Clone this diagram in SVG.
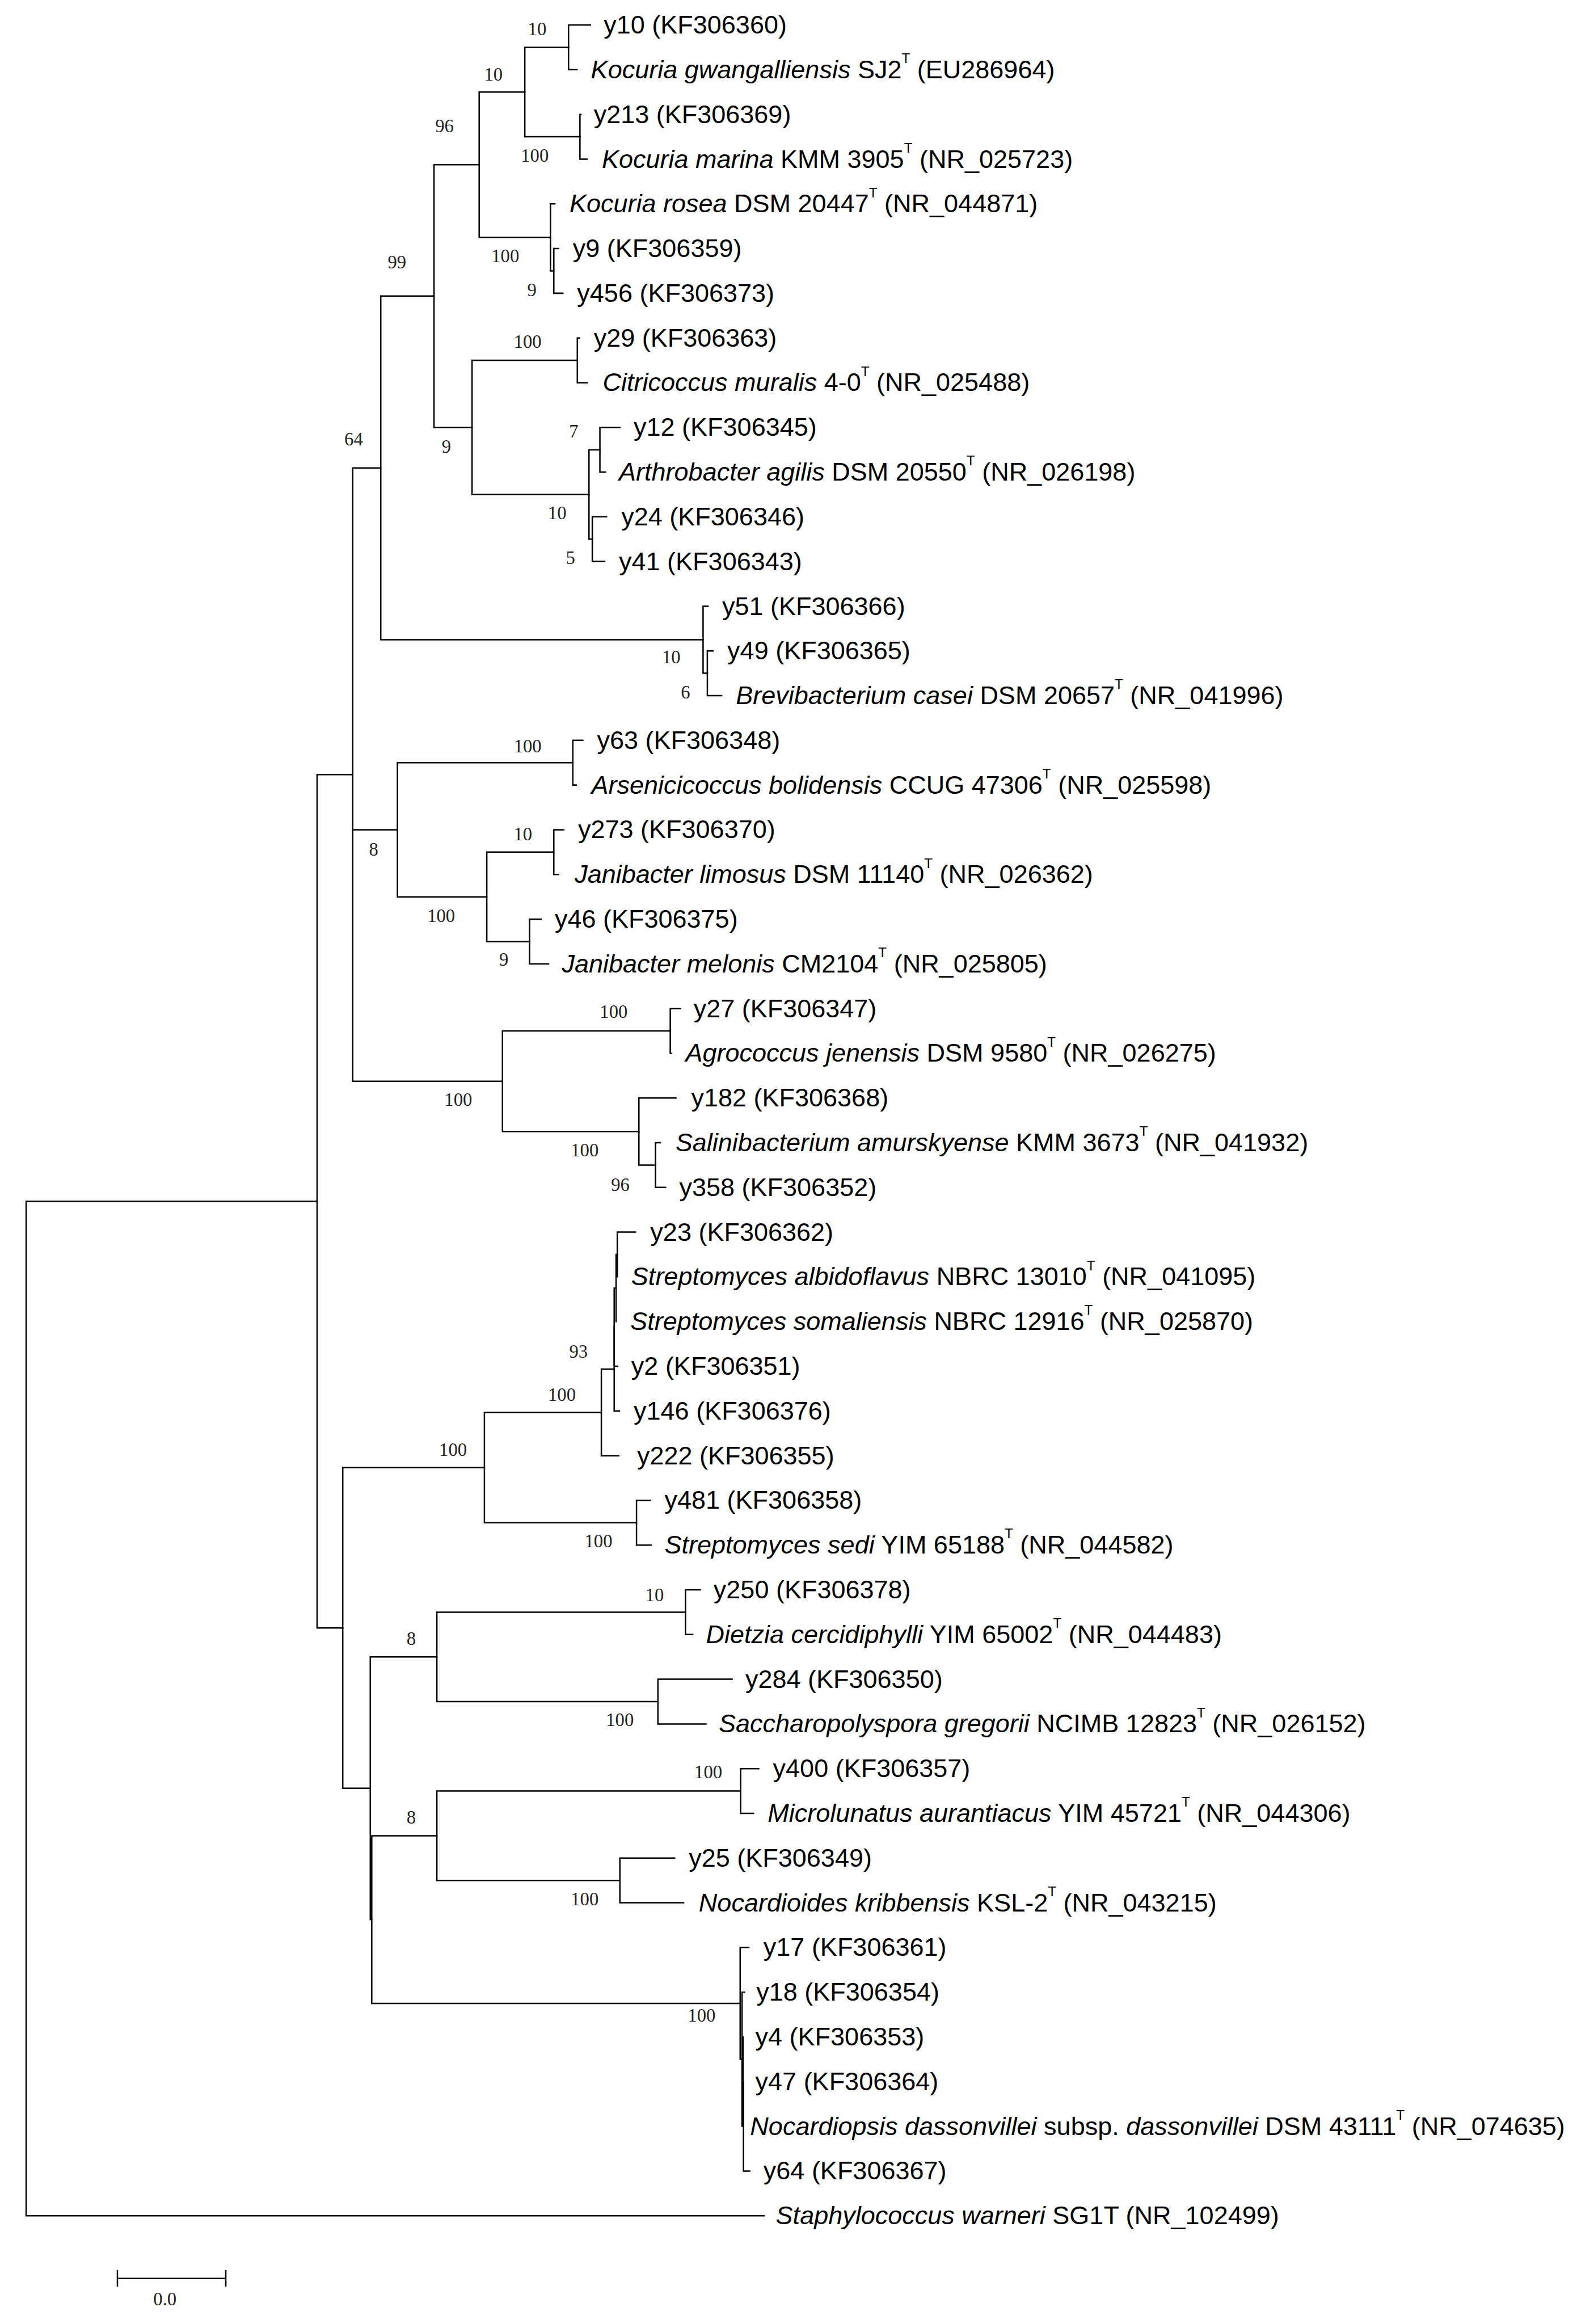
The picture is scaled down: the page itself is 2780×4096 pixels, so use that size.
<svg xmlns="http://www.w3.org/2000/svg" width="2780" height="4096" viewBox="0 0 2780 4096">
<style>
.br{fill:none;stroke:#000;stroke-width:3;stroke-linecap:square}
.lf{font-family:"Liberation Sans",Arial,sans-serif;font-size:53.7px;fill:#000}
.i{font-style:italic}
.sup{font-size:29px}
.bs{font-family:"Liberation Serif","Times New Roman",serif;font-size:39px;fill:#222;text-anchor:middle}
</style>
<rect width="2780" height="4096" fill="#fff"/>
<g transform="scale(0.838)">
<g id="connectors">
<path class="br" d="M55 2526.5V4660.1M55 2526.5H667M55 4660.1H1607"/>
<path class="br" d="M667 1629.1V3423.8M667 1629.1H742M667 3423.8H721"/>
<path class="br" d="M742 984.1V2274.1M742 984.1H801M742 1745.2H836M742 2274.1H1057"/>
<path class="br" d="M801 622.7V1345.5M801 622.7H913M801 1345.5H1479"/>
<path class="br" d="M913 346.5V898.9M913 346.5H1008M913 898.9H993"/>
<path class="br" d="M1008 193.7V499.3M1008 193.7H1104M1008 499.3H1158"/>
<path class="br" d="M1104 99.6V287.7M1104 99.6H1196M1104 287.7H1220"/>
<path class="br" d="M1196 52.6V146.6M1196 52.6H1242M1196 146.6H1214"/>
<path class="br" d="M1220 240.7V334.7M1220 240.7H1222M1220 334.7H1235"/>
<path class="br" d="M1158 428.7V569.8M1158 428.7H1167M1158 569.8H1165"/>
<path class="br" d="M1165 522.8V616.8M1165 522.8H1175M1165 616.8H1184"/>
<path class="br" d="M993 757.8V1039.9M993 757.8H1214.5M993 1039.9H1239"/>
<path class="br" d="M1214.5 710.8V804.8M1214.5 710.8H1219M1214.5 804.8H1235"/>
<path class="br" d="M1239 945.9V1133.9M1239 945.9H1262M1239 1133.9H1246"/>
<path class="br" d="M1262 898.9V992.9M1262 898.9H1304M1262 992.9H1273.5"/>
<path class="br" d="M1246 1086.9V1180.9M1246 1086.9H1276M1246 1180.9H1272"/>
<path class="br" d="M1479 1275V1416M1479 1275H1489.5M1479 1416H1488"/>
<path class="br" d="M1488 1369V1463M1488 1369H1500M1488 1463H1518"/>
<path class="br" d="M836 1604.1V1886.2M836 1604.1H1205M836 1886.2H1024"/>
<path class="br" d="M1205 1557.1V1651.1M1205 1557.1H1226M1205 1651.1H1212"/>
<path class="br" d="M1024 1792.2V1980.2M1024 1792.2H1165M1024 1980.2H1114"/>
<path class="br" d="M1165 1745.1V1839.2M1165 1745.1H1186M1165 1839.2H1175"/>
<path class="br" d="M1114 1933.2V2027.2M1114 1933.2H1138M1114 2027.2H1154"/>
<path class="br" d="M1057 2168.3V2379.9M1057 2168.3H1410M1057 2379.9H1344"/>
<path class="br" d="M1410 2121.3V2215.3M1410 2121.3H1431M1410 2215.3H1412"/>
<path class="br" d="M1344 2309.3V2450.4M1344 2309.3H1422M1344 2450.4H1379"/>
<path class="br" d="M1379 2403.3V2497.4M1379 2403.3H1389M1379 2497.4H1400"/>
<path class="br" d="M721 3086.6V3761M721 3086.6H1019M721 3761H779"/>
<path class="br" d="M1019 2970.5V3202.6M1019 2970.5H1265M1019 3202.6H1339"/>
<path class="br" d="M1265 2879.4V3061.6M1265 2879.4H1292M1265 3061.6H1301.5"/>
<path class="br" d="M1292 2791.2V2967.5M1292 2967.5H1303"/>
<path class="br" d="M1292 2709V2873.5M1292 2709H1296M1292 2873.5H1299"/>
<path class="br" d="M1296 2638.4V2779.5M1296 2638.4H1298.5"/>
<path class="br" d="M1298.5 2591.4V2685.4M1298.5 2591.4H1337"/>
<path class="br" d="M1339 3155.6V3249.6M1339 3155.6H1368M1339 3249.6H1370"/>
<path class="br" d="M779 3484.7V4037.2M779 3484.7H919M779 4037.2H782"/>
<path class="br" d="M919 3390.7V3578.8M919 3390.7H1442M919 3578.8H1384"/>
<path class="br" d="M1442 3343.7V3437.7M1442 3343.7H1473M1442 3437.7H1457"/>
<path class="br" d="M1384 3531.7V3625.8M1384 3531.7H1540M1384 3625.8H1485"/>
<path class="br" d="M782 3860.9V4213.5M782 3860.9H919M782 4213.5H1557"/>
<path class="br" d="M919 3766.8V3954.9M919 3766.8H1558M919 3954.9H1304"/>
<path class="br" d="M1558 3719.8V3813.8M1558 3719.8H1596M1558 3813.8H1585"/>
<path class="br" d="M1304 3907.9V4001.9M1304 3907.9H1419M1304 4001.9H1438"/>
<path class="br" d="M1557 4095.9V4331M1557 4095.9H1575M1557 4331H1561"/>
<path class="br" d="M1561 4190V4472M1561 4190H1566"/>
<path class="br" d="M1563 4284V4472"/>
<path class="br" d="M1564 4378V4566.1M1564 4566.1H1577"/>
<path class="br" d="M247 4792H475M247 4776V4808M475 4776V4808"/>
</g>
<g id="support">
<text class="bs" x="1130" y="74">10</text>
<text class="bs" x="1038" y="169">10</text>
<text class="bs" x="935" y="278">96</text>
<text class="bs" x="1125" y="340">100</text>
<text class="bs" x="1063" y="551">100</text>
<text class="bs" x="1119" y="623">9</text>
<text class="bs" x="835" y="564">99</text>
<text class="bs" x="1110" y="732">100</text>
<text class="bs" x="744" y="937">64</text>
<text class="bs" x="939" y="952">9</text>
<text class="bs" x="1207" y="920">7</text>
<text class="bs" x="1172" y="1092">10</text>
<text class="bs" x="1200" y="1186">5</text>
<text class="bs" x="1412" y="1395">10</text>
<text class="bs" x="1442" y="1469">6</text>
<text class="bs" x="1110" y="1582">100</text>
<text class="bs" x="786" y="1800">8</text>
<text class="bs" x="1100" y="1767">10</text>
<text class="bs" x="928" y="1939">100</text>
<text class="bs" x="1060" y="2031">9</text>
<text class="bs" x="1291" y="2141">100</text>
<text class="bs" x="964" y="2326">100</text>
<text class="bs" x="1230" y="2432">100</text>
<text class="bs" x="1305" y="2505">96</text>
<text class="bs" x="1217" y="2856">93</text>
<text class="bs" x="1182" y="2946">100</text>
<text class="bs" x="953" y="3062">100</text>
<text class="bs" x="1259" y="3254">100</text>
<text class="bs" x="1377" y="3368">10</text>
<text class="bs" x="865" y="3460">8</text>
<text class="bs" x="1304" y="3630">100</text>
<text class="bs" x="1490" y="3740">100</text>
<text class="bs" x="865" y="3835">8</text>
<text class="bs" x="1230" y="4007">100</text>
<text class="bs" x="1476" y="4252">100</text>
<text class="bs" x="347" y="4848">0.0</text>
</g>
<g id="leaf-01"><text class="lf" x="1270" y="70.6">y10 (KF306360)</text></g>
<g id="leaf-02"><text class="lf" x="1243" y="164.6"><tspan class="i">Kocuria gwangalliensis</tspan> SJ2<tspan class="sup" dy="-32">T</tspan><tspan dy="32"> (EU286964)</tspan></text></g>
<g id="leaf-03"><text class="lf" x="1249" y="258.7">y213 (KF306369)</text></g>
<g id="leaf-04"><text class="lf" x="1266" y="352.7"><tspan class="i">Kocuria marina</tspan> KMM 3905<tspan class="sup" dy="-32">T</tspan><tspan dy="32"> (NR_025723)</tspan></text></g>
<g id="leaf-05"><text class="lf" x="1198" y="446.7"><tspan class="i">Kocuria rosea</tspan> DSM 20447<tspan class="sup" dy="-32">T</tspan><tspan dy="32"> (NR_044871)</tspan></text></g>
<g id="leaf-06"><text class="lf" x="1205" y="540.8">y9 (KF306359)</text></g>
<g id="leaf-07"><text class="lf" x="1214" y="634.8">y456 (KF306373)</text></g>
<g id="leaf-08"><text class="lf" x="1249" y="728.8">y29 (KF306363)</text></g>
<g id="leaf-09"><text class="lf" x="1268" y="822.8"><tspan class="i">Citricoccus muralis</tspan> 4-0<tspan class="sup" dy="-32">T</tspan><tspan dy="32"> (NR_025488)</tspan></text></g>
<g id="leaf-10"><text class="lf" x="1333" y="916.9">y12 (KF306345)</text></g>
<g id="leaf-11"><text class="lf" x="1302" y="1010.9"><tspan class="i">Arthrobacter agilis</tspan> DSM 20550<tspan class="sup" dy="-32">T</tspan><tspan dy="32"> (NR_026198)</tspan></text></g>
<g id="leaf-12"><text class="lf" x="1307" y="1104.9">y24 (KF306346)</text></g>
<g id="leaf-13"><text class="lf" x="1302" y="1198.9">y41 (KF306343)</text></g>
<g id="leaf-14"><text class="lf" x="1519" y="1293">y51 (KF306366)</text></g>
<g id="leaf-15"><text class="lf" x="1530" y="1387">y49 (KF306365)</text></g>
<g id="leaf-16"><text class="lf" x="1548" y="1481"><tspan class="i">Brevibacterium casei</tspan> DSM 20657<tspan class="sup" dy="-32">T</tspan><tspan dy="32"> (NR_041996)</tspan></text></g>
<g id="leaf-17"><text class="lf" x="1256" y="1575.1">y63 (KF306348)</text></g>
<g id="leaf-18"><text class="lf" x="1244" y="1669.1"><tspan class="i">Arsenicicoccus bolidensis</tspan> CCUG 47306<tspan class="sup" dy="-32">T</tspan><tspan dy="32"> (NR_025598)</tspan></text></g>
<g id="leaf-19"><text class="lf" x="1216" y="1763.1">y273 (KF306370)</text></g>
<g id="leaf-20"><text class="lf" x="1209" y="1857.2"><tspan class="i">Janibacter limosus</tspan> DSM 11140<tspan class="sup" dy="-32">T</tspan><tspan dy="32"> (NR_026362)</tspan></text></g>
<g id="leaf-21"><text class="lf" x="1167" y="1951.2">y46 (KF306375)</text></g>
<g id="leaf-22"><text class="lf" x="1182" y="2045.2"><tspan class="i">Janibacter melonis</tspan> CM2104<tspan class="sup" dy="-32">T</tspan><tspan dy="32"> (NR_025805)</tspan></text></g>
<g id="leaf-23"><text class="lf" x="1459" y="2139.3">y27 (KF306347)</text></g>
<g id="leaf-24"><text class="lf" x="1442" y="2233.3"><tspan class="i">Agrococcus jenensis</tspan> DSM 9580<tspan class="sup" dy="-32">T</tspan><tspan dy="32"> (NR_026275)</tspan></text></g>
<g id="leaf-25"><text class="lf" x="1454" y="2327.3">y182 (KF306368)</text></g>
<g id="leaf-26"><text class="lf" x="1421" y="2421.3"><tspan class="i">Salinibacterium amurskyense</tspan> KMM 3673<tspan class="sup" dy="-32">T</tspan><tspan dy="32"> (NR_041932)</tspan></text></g>
<g id="leaf-27"><text class="lf" x="1429" y="2515.4">y358 (KF306352)</text></g>
<g id="leaf-28"><text class="lf" x="1368" y="2609.4">y23 (KF306362)</text></g>
<g id="leaf-29"><text class="lf" x="1328" y="2703.4"><tspan class="i">Streptomyces albidoflavus</tspan> NBRC 13010<tspan class="sup" dy="-32">T</tspan><tspan dy="32"> (NR_041095)</tspan></text></g>
<g id="leaf-30"><text class="lf" x="1326" y="2797.5"><tspan class="i">Streptomyces somaliensis</tspan> NBRC 12916<tspan class="sup" dy="-32">T</tspan><tspan dy="32"> (NR_025870)</tspan></text></g>
<g id="leaf-31"><text class="lf" x="1328" y="2891.5">y2 (KF306351)</text></g>
<g id="leaf-32"><text class="lf" x="1333" y="2985.5">y146 (KF306376)</text></g>
<g id="leaf-33"><text class="lf" x="1340" y="3079.6">y222 (KF306355)</text></g>
<g id="leaf-34"><text class="lf" x="1398" y="3173.6">y481 (KF306358)</text></g>
<g id="leaf-35"><text class="lf" x="1398" y="3267.6"><tspan class="i">Streptomyces sedi</tspan> YIM 65188<tspan class="sup" dy="-32">T</tspan><tspan dy="32"> (NR_044582)</tspan></text></g>
<g id="leaf-36"><text class="lf" x="1501" y="3361.7">y250 (KF306378)</text></g>
<g id="leaf-37"><text class="lf" x="1485" y="3455.7"><tspan class="i">Dietzia cercidiphylli</tspan> YIM 65002<tspan class="sup" dy="-32">T</tspan><tspan dy="32"> (NR_044483)</tspan></text></g>
<g id="leaf-38"><text class="lf" x="1568" y="3549.7">y284 (KF306350)</text></g>
<g id="leaf-39"><text class="lf" x="1512" y="3643.8"><tspan class="i">Saccharopolyspora gregorii</tspan> NCIMB 12823<tspan class="sup" dy="-32">T</tspan><tspan dy="32"> (NR_026152)</tspan></text></g>
<g id="leaf-40"><text class="lf" x="1626" y="3737.8">y400 (KF306357)</text></g>
<g id="leaf-41"><text class="lf" x="1615" y="3831.8"><tspan class="i">Microlunatus aurantiacus</tspan> YIM 45721<tspan class="sup" dy="-32">T</tspan><tspan dy="32"> (NR_044306)</tspan></text></g>
<g id="leaf-42"><text class="lf" x="1449" y="3925.9">y25 (KF306349)</text></g>
<g id="leaf-43"><text class="lf" x="1470" y="4019.9"><tspan class="i">Nocardioides kribbensis</tspan> KSL-2<tspan class="sup" dy="-32">T</tspan><tspan dy="32"> (NR_043215)</tspan></text></g>
<g id="leaf-44"><text class="lf" x="1606" y="4113.9">y17 (KF306361)</text></g>
<g id="leaf-45"><text class="lf" x="1591" y="4208">y18 (KF306354)</text></g>
<g id="leaf-46"><text class="lf" x="1589" y="4302">y4 (KF306353)</text></g>
<g id="leaf-47"><text class="lf" x="1589" y="4396">y47 (KF306364)</text></g>
<g id="leaf-48"><text class="lf" x="1578" y="4490"><tspan class="i">Nocardiopsis dassonvillei</tspan> subsp. <tspan class="i">dassonvillei</tspan> DSM 43111<tspan class="sup" dy="-32">T</tspan><tspan dy="32"> (NR_074635)</tspan></text></g>
<g id="leaf-49"><text class="lf" x="1606" y="4584.1">y64 (KF306367)</text></g>
<g id="leaf-50"><text class="lf" x="1632" y="4678.1"><tspan class="i">Staphylococcus warneri</tspan> SG1T (NR_102499)</text></g>
</g>
</svg>
